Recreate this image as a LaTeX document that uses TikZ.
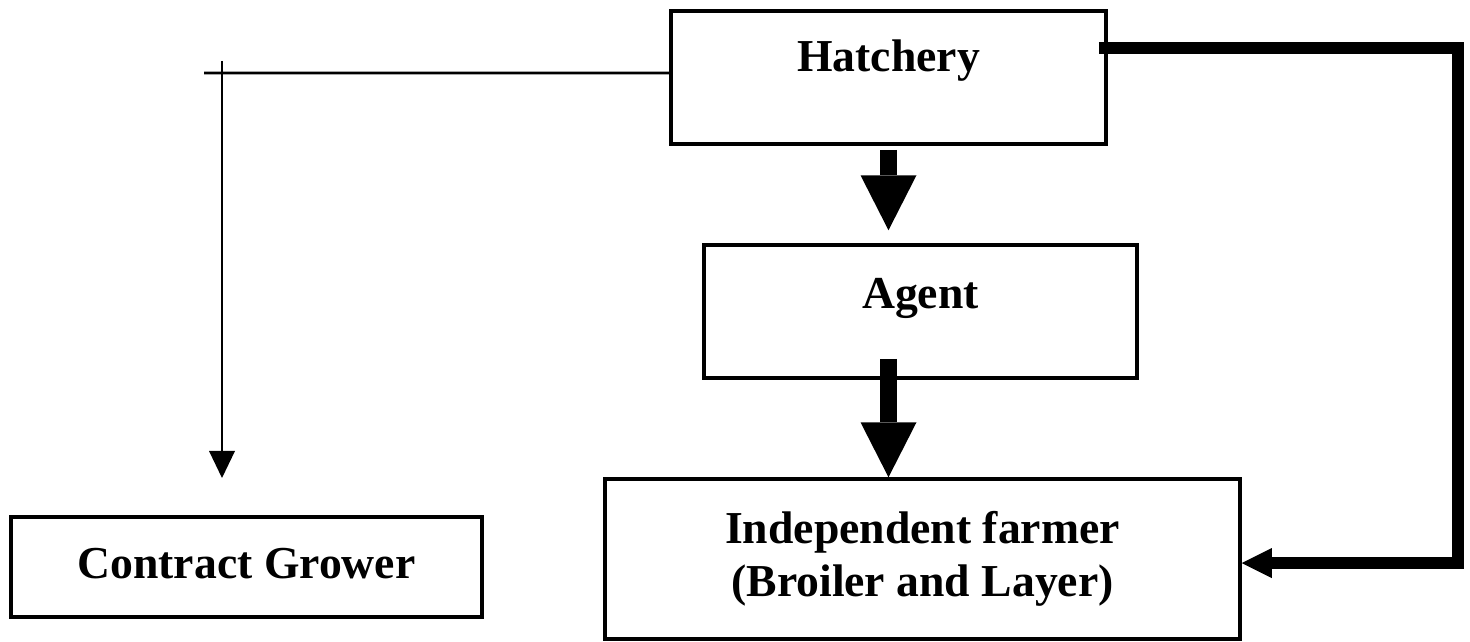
\documentclass[tikz,border=0pt]{standalone}
\usepackage{fontspec}
\setmainfont{Liberation Serif}
\usetikzlibrary{arrows.meta, positioning, calc}

\begin{document}
\begin{tikzpicture}[
    box/.style={rectangle, draw, line width=2pt, align=center, font=\fontsize{26}{30}\selectfont\bfseries},
    plainline/.style={line width=1.7pt},
    thinarrow/.style={line width=1.7pt, -{Triangle[width=0.52cm, length=0.54cm, line width=0pt]}},
    fatarrow/.style={line width=0.34cm, -{Triangle[width=1.12cm, length=1.1cm, line width=0pt]}},
    looparrow/.style={line width=0.24cm, -{Triangle[width=0.6cm, length=0.6cm, line width=0pt]}}
]
\useasboundingbox (0,0) rectangle (29.4,12.84);

% Nodos Centrales
\node (hatchery) [box, minimum width=8.7cm, minimum height=2.66cm, text height=0.62cm, text depth=0.84cm] at (17.77,11.29) {Hatchery};
\node (agent) [box, below=1.95cm of hatchery, xshift=0.64cm, minimum width=8.66cm, minimum height=2.66cm, text height=0.62cm, text depth=0.76cm] {Agent};
\node (farmer) [box, below=1.95cm of agent, xshift=0.04cm, minimum width=12.7cm, minimum height=3.2cm] {Independent farmer\\(Broiler and Layer)};

% Nodo Izquierdo
\node (contract) [box, left=2.39cm of farmer, yshift=-0.16cm, minimum width=9.42cm, minimum height=2cm, text height=0.62cm, text depth=0.18cm] {Contract Grower};

% Puntos auxiliares
\coordinate (lineend) at (4.08,11.38);
\coordinate (growertop) at (4.44,11.62);
\coordinate (growertip) at (4.44,3.28);
\coordinate (loopright) at (29.16,6);
\coordinate (loopstart) at ([xshift=-0.18cm, yshift=0.59cm]hatchery.east);
\coordinate (loopend) at ([yshift=-0.08cm]farmer.east);

% LÍNEAS DE FLUJO
\draw [plainline] ([yshift=0.09cm]hatchery.west) -- (lineend);
\draw [thinarrow] (growertop) -- (growertip);

\draw [fatarrow] ([yshift=-0.08cm]hatchery.south) -- ($(hatchery.south |- agent.north)+(0,0.26)$);
\draw [fatarrow] ($(hatchery.south |- agent.south)+(0,0.42)$) -- (hatchery.south |- farmer.north);

\draw [looparrow] (loopstart) -| (loopright |- loopend) -- (loopend);

\end{tikzpicture}
\end{document}
